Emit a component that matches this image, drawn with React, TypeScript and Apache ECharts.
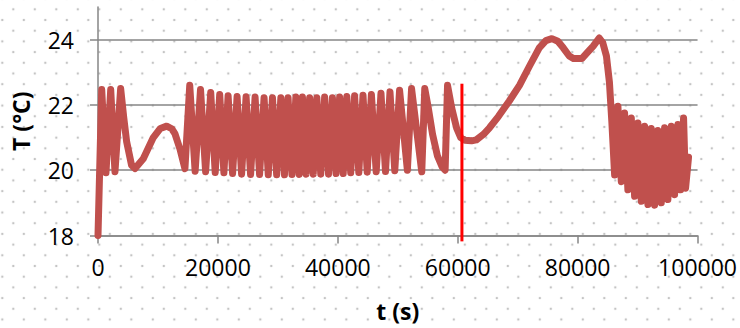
import React, { useEffect, useRef } from "react";
import * as echarts from "echarts";

const xTicks = [0, 20000, 40000, 60000, 80000, 100000];
const yTicks = [18, 20, 22, 24];

// [t (s), T (°C)]
const startPhase: [number, number][] = [
  [0, 18.0], [620, 22.47], [1330, 19.92], [2120, 22.47], [2830, 19.95], [3780, 22.5],
  [4300, 21.6], [4780, 20.87], [5600, 20.15], [6170, 20.05], [7550, 20.35], [9220, 21.0],
  [10400, 21.28], [11450, 21.35], [12300, 21.27], [12830, 21.12], [13670, 20.65], [14500, 20.05],
];

const densePhase: [number, number][] = [
  [15300, 22.6], [16200, 19.97], [17100, 22.47], [17950, 19.95], [18800, 22.38], [19550, 19.93],
  [20300, 22.32], [21000, 19.92], [21700, 22.28], [22450, 19.9], [23200, 22.26], [23950, 19.88],
  [24700, 22.25], [25450, 19.87], [26200, 22.24], [26950, 19.87], [27700, 22.22], [28400, 19.86],
  [29100, 22.22], [29800, 19.86], [30500, 22.22], [31100, 19.86], [31700, 22.22], [32350, 19.87],
  [33000, 22.24], [33550, 19.87], [34100, 22.24], [34700, 19.88], [35300, 22.22], [35900, 19.88],
  [36500, 22.22], [37150, 19.88], [37800, 22.24], [38450, 19.88], [39100, 22.22], [39700, 19.9],
  [40300, 22.24], [40900, 19.9], [41500, 22.26], [42150, 19.92], [42800, 22.28], [43500, 19.93],
  [44200, 22.3], [44900, 19.94], [45600, 22.32], [46400, 19.95], [47200, 22.36], [47950, 19.96],
  [48700, 22.4], [49500, 19.98], [50300, 22.45], [51600, 20.0], [52300, 22.5], [54000, 19.95],
  [54500, 22.5], [55100, 21.9], [55800, 21.1], [56600, 20.45], [57400, 20.1], [57900, 20.0],
  [58300, 22.6],
];

const decayAndRise: [number, number][] = [
  [59000, 21.9], [59800, 21.3], [60500, 21.0], [61200, 20.92], [62300, 20.9], [63100, 20.93],
  [64300, 21.1], [65300, 21.3], [66800, 21.65], [68600, 22.12], [70300, 22.6], [72000, 23.2],
  [73600, 23.75], [74700, 23.97], [75700, 24.03], [76700, 23.95], [77600, 23.75], [78600, 23.5],
  [79300, 23.42], [80700, 23.42], [81600, 23.6], [82600, 23.8], [83600, 24.05], [84200, 23.9],
  [84800, 23.5], [85300, 22.7], [85700, 21.5], [86170, 19.85],
];

const finalPhase: [number, number][] = [
  [86720, 21.96], [87280, 19.65], [87830, 21.75], [88380, 19.4], [88950, 21.6], [89500, 19.2],
  [90050, 21.45], [90620, 19.05], [91170, 21.35], [91720, 18.95], [92280, 21.28], [92830, 18.93],
  [93380, 21.22], [93950, 19.0], [94500, 21.3], [95050, 19.1], [95620, 21.35], [96170, 19.25],
  [96720, 21.4], [97170, 19.4], [97670, 21.6], [98000, 19.45], [98500, 20.4],
];

const markerTime = 60700;
const markerTop = 22.65;
const markerBottom = 17.82;

export default function App() {
  const ref = useRef<HTMLDivElement>(null);
  useEffect(() => {
    if (!ref.current) return;
    const chart = echarts.init(ref.current, null, { renderer: "svg" });
    const data = [...startPhase, ...densePhase, ...decayAndRise, ...finalPhase];
    const gray = "#868686";
    const labelFont = { color: "#000", fontSize: 23, fontFamily: "Open Sans" };
    const titleFont = { color: "#000", fontSize: 23, fontWeight: "bold" as const, fontFamily: "Open Sans" };
    chart.setOption({
      animation: false,
      grid: { left: 98, right: 42, top: 7, bottom: 92.5 },
      xAxis: {
        type: "value",
        min: xTicks[0],
        max: xTicks[xTicks.length - 1],
        interval: xTicks[1] - xTicks[0],
        axisLine: { show: true, lineStyle: { color: gray, width: 1.5 } },
        axisTick: { show: true, length: 8, lineStyle: { color: gray, width: 1.5 } },
        axisLabel: { ...labelFont, margin: 20, formatter: (v: number) => String(v) },
        splitLine: { show: false },
        name: "t (s)",
        nameLocation: "middle",
        nameGap: 64,
        nameTextStyle: titleFont,
      },
      yAxis: {
        type: "value",
        min: 18,
        max: 25,
        interval: 2,
        axisLine: { show: true, lineStyle: { color: gray, width: 1.5 } },
        axisTick: { show: true, length: 8, customValues: yTicks, lineStyle: { color: gray, width: 1.5 } },
        axisLabel: { ...labelFont, margin: 24, customValues: yTicks, formatter: (v: number) => String(v) },
        splitLine: { show: true, lineStyle: { color: gray, width: 1.5 } },
        name: "T (°C)",
        nameLocation: "middle",
        nameGap: 66,
        nameRotate: 90,
        nameTextStyle: titleFont,
      },
      series: [
        {
          type: "line",
          data,
          showSymbol: false,
          symbol: "none",
          lineStyle: { color: "#C0504D", width: 7, join: "round", cap: "round" },
          z: 2,
        },
      ],
    });
    const p1 = chart.convertToPixel({ gridIndex: 0 }, [markerTime, markerTop]) as number[];
    const p2 = chart.convertToPixel({ gridIndex: 0 }, [markerTime, markerBottom]) as number[];
    chart.setOption({
      graphic: [
        {
          type: "line",
          shape: { x1: p1[0], y1: p1[1], x2: p2[0], y2: p2[1] },
          style: { stroke: "#FF0000", lineWidth: 3 },
          z: 10,
        },
      ],
    });
    return () => chart.dispose();
  }, []);

  const dot = "radial-gradient(circle, #c4c4c4 0px, #c4c4c4 1px, rgba(255,255,255,0) 1.6px)";
  return (
    <div
      style={{
        position: "absolute",
        left: 0,
        top: 0,
        width: 740,
        height: 328,
        backgroundColor: "#fff",
        backgroundImage: `${dot}, ${dot}`,
        backgroundSize: "21.5px 21.4px, 21.5px 21.4px",
        backgroundPosition: "2.55px -1.4px, -8.45px 9.3px",
      }}
    >
      <div ref={ref} style={{ width: 740, height: 328 }} />
    </div>
  );
}
